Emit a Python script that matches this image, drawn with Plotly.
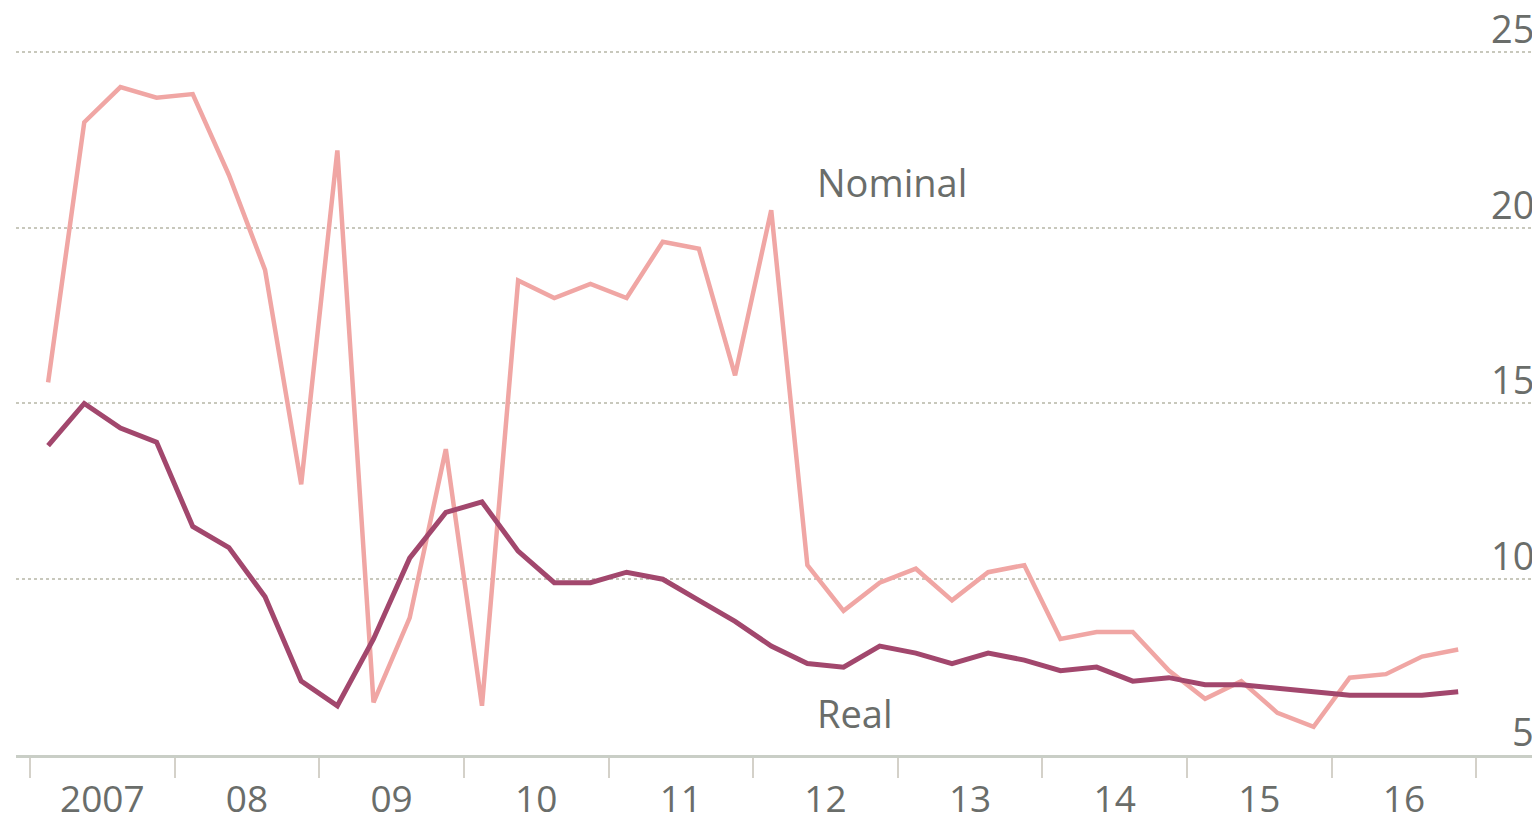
import plotly.graph_objects as go

# Quarterly data, 2007 Q1 - 2016 Q4 (per cent)
years = list(range(2007, 2017))
quarters = [y + (q + 0.5) / 4 for y in years for q in range(4)]

nominal = [15.6, 23.0, 24.0, 23.7, 23.8, 21.5, 18.8, 12.7, 22.2, 6.5,
           8.9, 13.7, 6.4, 18.5, 18.0, 18.4, 18.0, 19.6, 19.4, 15.8,
           20.5, 10.4, 9.1, 9.9, 10.3, 9.4, 10.2, 10.4, 8.3, 8.5,
           8.5, 7.4, 6.6, 7.1, 6.2, 5.8, 7.2, 7.3, 7.8, 8.0]

real = [13.8, 15.0, 14.3, 13.9, 11.5, 10.9, 9.5, 7.1, 6.4, 8.3,
        10.6, 11.9, 12.2, 10.8, 9.9, 9.9, 10.2, 10.0, 9.4, 8.8,
        8.1, 7.6, 7.5, 8.1, 7.9, 7.6, 7.9, 7.7, 7.4, 7.5,
        7.1, 7.2, 7.0, 7.0, 6.9, 6.8, 6.7, 6.7, 6.7, 6.8]

year_labels = ["2007", "08", "09", "10", "11", "12", "13", "14", "15", "16"]
year_bounds = list(range(2007, 2018))
y_ticks = [5, 10, 15, 20, 25]

NOMINAL_C = "#f0a6a4"
REAL_C = "#a2476d"
TEXT_C = "#6a6d6a"
FONT = "Open Sans"

fig = go.Figure()
fig.add_trace(go.Scatter(x=quarters, y=nominal, mode="lines", name="Nominal",
                         line=dict(color=NOMINAL_C, width=4.5)))
fig.add_trace(go.Scatter(x=quarters, y=real, mode="lines", name="Real",
                         line=dict(color=REAL_C, width=5)))

fig.add_annotation(x=2012.43, y=21.3, text="Nominal", showarrow=False,
                   xanchor="left", yanchor="middle",
                   font=dict(family=FONT, size=38, color=TEXT_C))
fig.add_annotation(x=2012.43, y=6.2, text="Real", showarrow=False,
                   xanchor="left", yanchor="middle",
                   font=dict(family=FONT, size=38, color=TEXT_C))

# y-axis value labels, sitting above their gridlines at the right edge
for v in y_ticks:
    fig.add_annotation(x=1, xref="paper", y=v, yref="y", text=str(v),
                       showarrow=False, xanchor="right", yanchor="middle",
                       xshift=-1, yshift=24,
                       font=dict(family=FONT, size=38, color=TEXT_C))

fig.update_layout(
    width=1532, height=812,
    margin=dict(l=8, r=3, t=0, b=65, pad=0),
    paper_bgcolor="white", plot_bgcolor="white",
    showlegend=False,
    xaxis=dict(
        range=[2006.903, 2017.42],
        tickmode="array",
        tickvals=[y + 0.5 for y in years],
        ticktext=year_labels,
        ticks="outside", ticklen=10, tickcolor="rgba(0,0,0,0)",
        tickfont=dict(family=FONT, size=37, color=TEXT_C),
        showgrid=False, zeroline=False,
        showline=True, linecolor="#c9cec6", linewidth=3,
        minor=dict(tickmode="array", tickvals=year_bounds, ticks="outside",
                   ticklen=20, tickwidth=2, tickcolor="#d4d1c9", showgrid=False),
        automargin=False,
        fixedrange=True,
    ),
    yaxis=dict(
        range=[5, 26.25],
        side="right",
        tickmode="array", tickvals=y_ticks,
        showticklabels=False,
        ticks="",
        showgrid=True, gridcolor="#c8c8bc", gridwidth=2, griddash="dot",
        zeroline=False, showline=False,
        automargin=False,
        fixedrange=True,
    ),
)

fig.write_html("out.html")
